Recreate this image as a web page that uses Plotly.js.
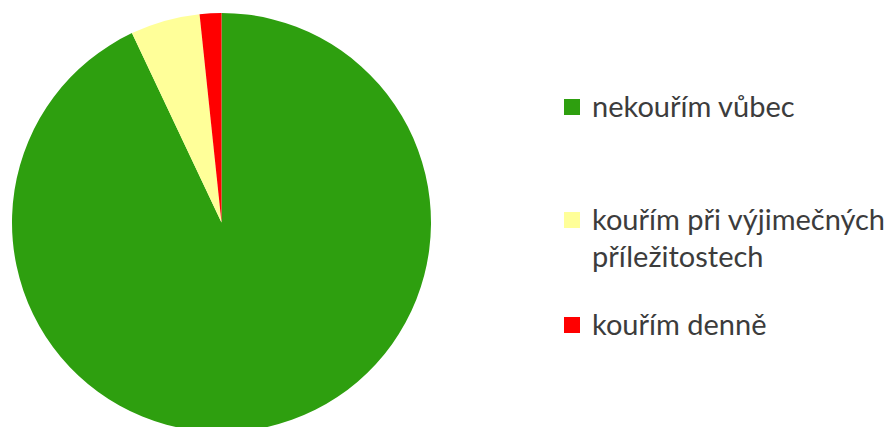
<!DOCTYPE html>
<html>
<head>
<meta charset="utf-8">
<script src="https://cdn.plot.ly/plotly-3.0.1.min.js"></script>
<style>
html,body{margin:0;padding:0;overflow:hidden;background:#fff;}
#chart{width:895px;height:440px;}
</style>
</head>
<body>
<div id="chart"></div>
<script>
const labels = ["nekouřím vůbec", "kouřím při výjimečných příležitostech", "kouřím denně"];
const legendLines = [["nekouřím vůbec"], ["kouřím při výjimečných", "příležitostech"], ["kouřím denně"]];
const values = [92.97, 5.36, 1.67];
const colors = ["#2E9F0F", "#FFFF99", "#FF0000"];

const W = 895, H = 440;
// legend layout (pixels from top-left)
const legendX = 564, squareSize = 16, textX = 590, lineGap = 37;
const legendY = [107, 220, 325];

const shapes = [];
const annotations = [];
legendLines.forEach((lines, i) => {
  const cy = legendY[i];
  shapes.push({
    type: "rect", xref: "paper", yref: "paper",
    x0: legendX / W, x1: (legendX + squareSize) / W,
    y0: 1 - (cy + squareSize / 2) / H, y1: 1 - (cy - squareSize / 2) / H,
    fillcolor: colors[i], line: {width: 0}
  });
  lines.forEach((t, j) => {
    annotations.push({
      text: t, xref: "paper", yref: "paper",
      x: textX / W, y: 1 - (cy - 2 + j * lineGap) / H,
      xanchor: "left", yanchor: "middle", showarrow: false,
      font: {family: "Lato, 'Open Sans', sans-serif", size: 29, color: "#3c3c3c"}
    });
  });
});

const data = [{
  type: "pie",
  labels: labels,
  values: values,
  marker: {colors: colors, line: {width: 0}},
  sort: false,
  direction: "clockwise",
  rotation: 0,
  textinfo: "none",
  hoverinfo: "label+percent",
  domain: {x: [12 / W, 431 / W], y: [8 / H, 427 / H]}
}];

const layout = {
  width: W, height: H,
  margin: {l: 0, r: 0, t: 0, b: 0},
  showlegend: false,
  paper_bgcolor: "#fff",
  plot_bgcolor: "#fff",
  shapes: shapes,
  annotations: annotations
};

Plotly.newPlot("chart", data, layout, {displayModeBar: false, staticPlot: true});
</script>
</body>
</html>
